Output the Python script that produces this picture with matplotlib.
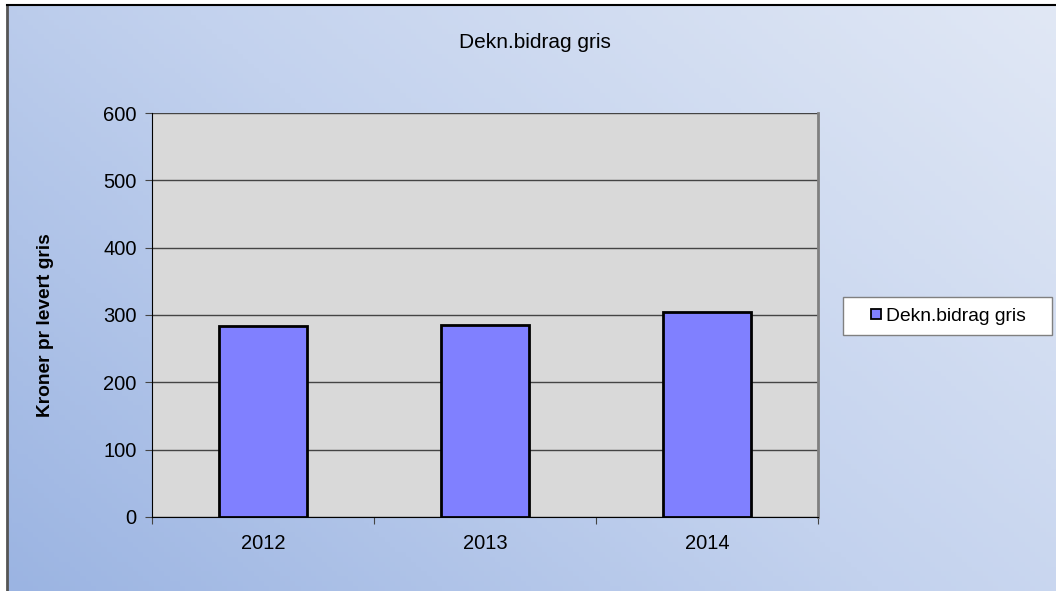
import numpy as np
import matplotlib
matplotlib.use("Agg")
import matplotlib.pyplot as plt
from matplotlib.lines import Line2D
from matplotlib.patches import Rectangle

plt.rcParams['font.family'] = ['Liberation Sans', 'DejaVu Sans']

years = ["2012", "2013", "2014"]
values = [284, 285, 304]
series_name = "Dekn.bidrag gris"
title = "Dekn.bidrag gris"
ylabel = "Kroner pr levert gris"

fig = plt.figure(figsize=(10.56, 5.91), dpi=100)
fig.patch.set_facecolor("white")

# gradient background of the chart area
bg = fig.add_axes([7 / 1056, 0, 1 - 7 / 1056, 1 - 5 / 591])
bg.set_zorder(-10)
gx = np.linspace(0, 1, 200)
gy = np.linspace(0, 1, 120)
X, Y = np.meshgrid(gx, gy)
t = 1 - np.clip((X * 0.6 + (1 - Y) * 0.4), 0, 1)
light = np.array([225, 232, 245]) / 255
mid = np.array([195, 210, 238]) / 255
dark = np.array([155, 180, 226]) / 255
img = np.where(t[..., None] < 0.5,
               light + (mid - light) * (t[..., None] / 0.5),
               mid + (dark - mid) * ((t[..., None] - 0.5) / 0.5))
bg.imshow(img, aspect="auto", extent=[0, 1, 0, 1], origin="upper")
bg.set_xlim(0, 1)
bg.set_ylim(0, 1)
bg.set_xticks([])
bg.set_yticks([])
for s in ["right", "bottom"]:
    bg.spines[s].set_visible(False)
bg.spines["top"].set_color("black")
bg.spines["top"].set_linewidth(1.5)
bg.spines["left"].set_color("#555555")
bg.spines["left"].set_linewidth(2)

ax = fig.add_axes([152 / 1056, 74 / 591, 666 / 1056, 404 / 591])
ax.set_facecolor("#d9d9d9")
x = np.arange(len(years))
ax.bar(x, values, width=0.4, color="#8080ff", edgecolor="black", linewidth=2,
       zorder=3, label=series_name)
ax.set_xlim(-0.5, len(years) - 0.5)
ax.set_ylim(0, 600)
ax.set_yticks(range(0, 601, 100))
ax.yaxis.grid(True, color="#444444", linewidth=1)
ax.set_axisbelow(True)
ax.set_xticks(x)
ax.set_xticklabels(years)
ax.set_xticks(np.arange(-0.5, len(years)), minor=True)
ax.tick_params(axis="x", which="major", length=0, pad=12, labelsize=14.5)
ax.tick_params(axis="x", which="minor", length=5, width=0.8, direction="out", color="#444444")
ax.tick_params(axis="y", length=5, width=0.8, direction="out", color="#444444", labelsize=14.5, pad=6)
ax.spines["top"].set_visible(False)
ax.spines["left"].set_color("black")
ax.spines["bottom"].set_color("black")
ax.spines["right"].set_color("#808080")
ax.spines["right"].set_linewidth(2)

fig.text(46 / 1056, 1 - 325 / 591, ylabel, rotation=90, ha="center", va="center",
         fontsize=13.8, fontweight="bold")
fig.text(535 / 1056, 1 - 42 / 591, title, ha="center", va="center", fontsize=15)

# legend box drawn separately so its padding can match
fig.patches.append(Rectangle((843 / 1056, 1 - 335 / 591), 209 / 1056, 38 / 591,
                             transform=fig.transFigure, facecolor="white",
                             edgecolor="#808080", linewidth=1, zorder=5))
handle = Line2D([], [], marker="s", linestyle="none", markersize=7,
                markerfacecolor="#8080ff", markeredgecolor="black", markeredgewidth=1.3)
leg = fig.legend([handle], [series_name], loc="center",
                 bbox_to_anchor=(947 / 1056, 1 - 316 / 591), fontsize=13.9,
                 frameon=False, handletextpad=0.1,
                 borderpad=0.45, handlelength=0.8, borderaxespad=0)
leg.set_zorder(6)

fig.savefig("out.png", dpi=100)
